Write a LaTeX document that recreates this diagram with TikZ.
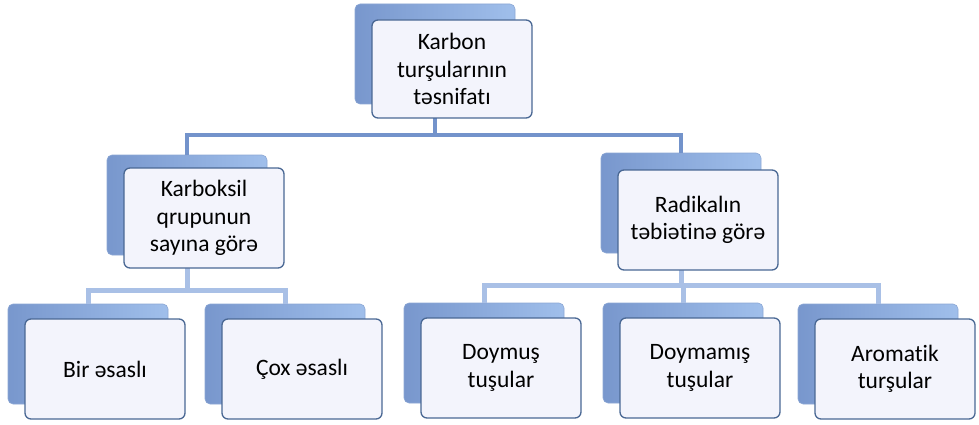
\documentclass[tikz,border=0pt]{standalone}
\usepackage{fontspec}
\setmainfont[Ligatures=NoCommon]{Carlito}
\definecolor{bkL}{HTML}{7897CD}
\definecolor{bkR}{HTML}{A0BFEB}
\definecolor{frF}{HTML}{F3F4FC}
\definecolor{frB}{HTML}{4A6894}
\definecolor{busA}{HTML}{7393CB}
\definecolor{busB}{HTML}{A9C0E6}
\tikzset{
  backbox/.style={rounded corners=5pt, minimum width=160pt, minimum height=100pt,
    inner sep=0pt, left color=bkL, right color=bkR, draw=bkL!85!white, line width=0.6pt},
  frontbox/.style={rounded corners=6pt, draw=frB, line width=1.3pt, fill=frF,
    minimum width=160pt, minimum height=100pt, inner sep=0pt, align=center,
    font=\fontsize{23.5}{27.5}\selectfont},
  linkA/.style={line width=4.5pt, draw=busA},
  linkB/.style={line width=5pt, draw=busB},
}
\begin{document}
\begin{tikzpicture}[x=1pt,y=-1pt]
\useasboundingbox (0,0) rectangle (979,425);

% raised blue plates behind each box
\node[backbox] (tb)  at (435,54)  {};
\node[backbox] (kb)  at (187,205) {};
\node[backbox] (rb)  at (681,203) {};
\node[backbox] (b1b) at (88,354)  {};
\node[backbox] (b2b) at (285,354) {};
\node[backbox] (b3b) at (484,353) {};
\node[backbox] (b4b) at (683,353) {};
\node[backbox] (b5b) at (878,354) {};

% bus heights
\coordinate (bus1) at (0,135);
\coordinate (bus2) at (0,290);
\coordinate (bus3) at (0,285);

% connectors
\draw[linkA] (tb.south) -- (tb.south |- bus1);
\draw[linkA] (kb.north) |- (tb.south |- bus1) -| (rb.north);
\draw[linkB] (kb.south) -- (kb.south |- bus2);
\draw[linkB] (b1b.north) |- (kb.south |- bus2) -| (b2b.north);
\draw[linkB] (rb.south) -- (rb.south |- bus3);
\draw[linkB] (b3b.north) |- (b4b.north |- bus3) -| (b5b.north);
\draw[linkB] (b4b.north) -- (b4b.north |- bus3);

% front boxes with labels
\node[frontbox, minimum height=98pt] (t) at (452,69) {Karbon\\tur\c{s}ular\i n\i n\\t\char"0259 snifat\i};
\node[frontbox] (k) at (204,218) {Karboksil\\qrupunun\\say\i na g\"or\char"0259};
\node[frontbox] (r) at (698,220) {Radikal\i n\\t\char"0259 bi\char"0259 tin\char"0259{} g\"or\char"0259};
\node[frontbox] (b1) at (105,369) {Bir \char"0259 sasl\i};
\node[frontbox] (b2) at (302,369) {\c{C}ox \char"0259 sasl\i};
\node[frontbox] (b3) at (501,368) {Doymu\c{s}\\tu\c{s}ular};
\node[frontbox] (b4) at (700,368) {Doymam\i\c{s}\\tu\c{s}ular};
\node[frontbox] (b5) at (895,369) {Aromatik\\tur\c{s}ular};
\end{tikzpicture}
\end{document}
